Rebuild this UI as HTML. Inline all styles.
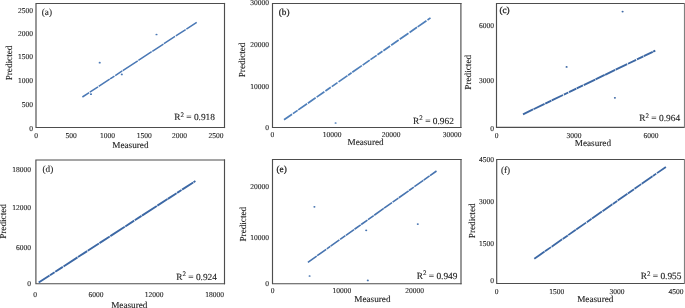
<!DOCTYPE html>
<html><head><meta charset="utf-8"><style>
html,body{margin:0;padding:0;background:#fff;}
body{width:685px;height:308px;overflow:hidden;}
svg{display:block;}
text{font-family:"Liberation Serif", "Times New Roman", serif;fill:#1e1e1e;stroke:#1e1e1e;stroke-width:0.12px;text-rendering:geometricPrecision;}
.t{font-size:7.5px;}
.l{font-size:9.2px;}
.g{font-size:9.2px;}
.r{font-size:9.4px;}
.s{font-size:7px;}
</style></head><body>
<svg width="685" height="308" viewBox="0 0 685 308">
<rect width="685" height="308" fill="#fff"/>
<path d="M36 3.5H224.5M36 127.5H224.5M36 3.5V127.5" fill="none" stroke="#4d4d4d" stroke-width="1.15" stroke-linecap="square"/>
<path d="M224.5 3.5V127.5" fill="none" stroke="#4d4d4d" stroke-width="1.15" stroke-linecap="square"/>
<text class="t" x="33" y="12.7" text-anchor="end">2500</text>
<text class="t" x="33" y="35.5" text-anchor="end">2000</text>
<text class="t" x="33" y="58.9" text-anchor="end">1500</text>
<text class="t" x="33" y="83.3" text-anchor="end">1000</text>
<text class="t" x="33" y="106.7" text-anchor="end">500</text>
<text class="t" x="33" y="130.5" text-anchor="end">0</text>
<text class="t" x="36.2" y="138.1" text-anchor="middle">0</text>
<text class="t" x="71.2" y="138.1" text-anchor="middle">500</text>
<text class="t" x="107.6" y="138.1" text-anchor="middle">1000</text>
<text class="t" x="144.3" y="138.1" text-anchor="middle">1500</text>
<text class="t" x="179.6" y="138.1" text-anchor="middle">2000</text>
<text class="t" x="216" y="138.1" text-anchor="middle">2500</text>
<text class="l" transform="translate(12.4 63) rotate(-90)" text-anchor="middle">Predicted</text>
<text class="l" x="130.4" y="148.3" text-anchor="middle">Measured</text>
<text class="g" x="41.8" y="15.2">(a)</text>
<text class="r" x="215" y="120.3" text-anchor="end">R<tspan class="s" dy="-3.5">2</tspan><tspan dy="3.5"> = 0.918</tspan></text>
<line x1="82.4" y1="97" x2="196.7" y2="22.3" stroke="#4a78b5" stroke-width="1.5" stroke-dasharray="8.09 0.77 9.81 0.8 13.13 0.53 5.17 0.92 8.37 0.62 17.94 0.74 15.87 0.74 13.31 0.58 13.25 0.93 11.8 0.87 13.73 0.53"/>
<ellipse cx="99.7" cy="62.7" rx="1.05" ry="0.85" fill="#4a78b5"/>
<ellipse cx="156.5" cy="34.5" rx="1.05" ry="0.85" fill="#4a78b5"/>
<ellipse cx="121.8" cy="74.4" rx="1.05" ry="0.85" fill="#4a78b5"/>
<ellipse cx="91" cy="94.2" rx="1.05" ry="0.85" fill="#4a78b5"/>
<path d="M272.5 3.5H460.9M272.5 127.5H460.9M272.5 3.5V127.5" fill="none" stroke="#4d4d4d" stroke-width="1.15" stroke-linecap="square"/>
<path d="M460.9 3.5V127.5" fill="none" stroke="#4d4d4d" stroke-width="1.15" stroke-linecap="square"/>
<text class="t" x="269" y="4.8" text-anchor="end">30000</text>
<text class="t" x="269" y="47.4" text-anchor="end">20000</text>
<text class="t" x="269" y="89.3" text-anchor="end">10000</text>
<text class="t" x="269" y="129.9" text-anchor="end">0</text>
<text class="t" x="272.3" y="137" text-anchor="middle">0</text>
<text class="t" x="332.2" y="137" text-anchor="middle">10000</text>
<text class="t" x="391" y="137" text-anchor="middle">20000</text>
<text class="t" x="452" y="137" text-anchor="middle">30000</text>
<text class="l" transform="translate(244.9 59.9) rotate(-90)" text-anchor="middle">Predicted</text>
<text class="l" x="365.6" y="145.1" text-anchor="middle">Measured</text>
<text class="g" x="278.8" y="14.8" style="stroke-width:0.25px">(b)</text>
<text class="r" x="453.9" y="123.8" text-anchor="end">R<tspan class="s" dy="-3.5">2</tspan><tspan dy="3.5"> = 0.962</tspan></text>
<line x1="284" y1="119.8" x2="430.5" y2="17.9" stroke="#4f7fba" stroke-width="1.7" stroke-dasharray="9.82 1.05 5.71 0.72 10.79 0.98 9.47 1.23 9.43 1.25 6.55 1.18 7 1.26 10.91 0.76 4.22 0.83 11.69 0.96 8.64 0.88 7.57 0.93 6.16 1.05 8.26 1.24 9.14 1.26 10.71 1.29 9.04 0.8 10.75 1.28 11.14 1.04"/>
<ellipse cx="335.6" cy="123" rx="1.05" ry="0.85" fill="#4f7fba"/>
<path d="M496.5 3.5H684.5M496.5 127.4H684.5M496.5 3.5V127.4" fill="none" stroke="#4d4d4d" stroke-width="1.15" stroke-linecap="square"/>
<path d="M684.5 3.5V127.4" fill="none" stroke="#808080" stroke-width="1.15" stroke-linecap="square"/>
<text class="t" x="494" y="27.9" text-anchor="end">6000</text>
<text class="t" x="494" y="82.5" text-anchor="end">3000</text>
<text class="t" x="494" y="131.2" text-anchor="end">0</text>
<text class="t" x="496.5" y="138.1" text-anchor="middle">0</text>
<text class="t" x="574.1" y="138.1" text-anchor="middle">3000</text>
<text class="t" x="650.9" y="138.1" text-anchor="middle">6000</text>
<text class="l" transform="translate(471 72.3) rotate(-90)" text-anchor="middle">Predicted</text>
<text class="l" x="592.9" y="146" text-anchor="middle">Measured</text>
<text class="g" x="499.4" y="13" style="stroke-width:0.3px">(c)</text>
<text class="r" x="680.1" y="121.4" text-anchor="end">R<tspan class="s" dy="-3.5">2</tspan><tspan dy="3.5"> = 0.964</tspan></text>
<line x1="523" y1="114.3" x2="655.3" y2="50.6" stroke="#3d68a4" stroke-width="1.9" stroke-dasharray="11.14 0.51 12.32 0.69 6.85 0.43 12.54 0.89 4.89 0.8 8.1 0.48 6.94 0.78 12.73 0.42 10.15 0.42 11.18 0.57 12.81 0.89 9.05 0.9 7.1 0.44 10 0.42 5.97 0.6"/>
<ellipse cx="622.6" cy="11.6" rx="1.05" ry="0.85" fill="#3d68a4"/>
<ellipse cx="566.6" cy="66.9" rx="1.05" ry="0.85" fill="#3d68a4"/>
<ellipse cx="614.9" cy="97.8" rx="1.05" ry="0.85" fill="#3d68a4"/>
<path d="M35.9 160H224.5M35.9 283.7H224.5M35.9 160V283.7" fill="none" stroke="#4d4d4d" stroke-width="1.15" stroke-linecap="square"/>
<path d="M224.5 160V283.7" fill="none" stroke="#4d4d4d" stroke-width="1.15" stroke-linecap="square"/>
<text class="t" x="31" y="171.9" text-anchor="end">18000</text>
<text class="t" x="31" y="210" text-anchor="end">12000</text>
<text class="t" x="31" y="249.9" text-anchor="end">6000</text>
<text class="t" x="31" y="285.8" text-anchor="end">0</text>
<text class="t" x="35" y="296.7" text-anchor="middle">0</text>
<text class="t" x="96" y="296.7" text-anchor="middle">6000</text>
<text class="t" x="154.2" y="296.7" text-anchor="middle">12000</text>
<text class="t" x="214.6" y="296.7" text-anchor="middle">18000</text>
<text class="l" transform="translate(5.8 221.5) rotate(-90)" text-anchor="middle">Predicted</text>
<text class="l" x="129.3" y="307.7" text-anchor="middle">Measured</text>
<text class="g" x="42.5" y="171.8">(d)</text>
<text class="r" x="217" y="279.5" text-anchor="end">R<tspan class="s" dy="-3.5">2</tspan><tspan dy="3.5"> = 0.924</tspan></text>
<line x1="38.7" y1="282.5" x2="195.4" y2="181" stroke="#3c68a5" stroke-width="1.9" stroke-dasharray="12.94 0.46 5.55 0.75 9.08 0.78 16.66 0.55 10.99 0.61 13.37 0.64 12.27 0.65 17.23 0.6 10.61 0.69 8.09 0.52 17.71 0.61 12.13 0.4 10.4 0.63 5.26 0.65 13.22 0.42 13.16 0.59"/>
<path d="M272.5 159.5H461M272.5 283.7H461M272.5 159.5V283.7" fill="none" stroke="#4d4d4d" stroke-width="1.15" stroke-linecap="square"/>
<path d="M461 159.5V283.7" fill="none" stroke="#4d4d4d" stroke-width="1.15" stroke-linecap="square"/>
<text class="t" x="269.1" y="189.1" text-anchor="end">20000</text>
<text class="t" x="269.1" y="239.9" text-anchor="end">10000</text>
<text class="t" x="269.1" y="286" text-anchor="end">0</text>
<text class="t" x="272.7" y="293.3" text-anchor="middle">0</text>
<text class="t" x="341.9" y="293.3" text-anchor="middle">10000</text>
<text class="t" x="414.6" y="293.3" text-anchor="middle">20000</text>
<text class="l" transform="translate(245.7 224.2) rotate(-90)" text-anchor="middle">Predicted</text>
<text class="l" x="372.4" y="301.9" text-anchor="middle">Measured</text>
<text class="g" x="276.5" y="171.7" style="stroke-width:0.28px">(e)</text>
<text class="r" x="457.5" y="278.7" text-anchor="end">R<tspan class="s" dy="-3.5">2</tspan><tspan dy="3.5"> = 0.949</tspan></text>
<line x1="307.9" y1="262.3" x2="436.5" y2="171" stroke="#4774b0" stroke-width="1.6" stroke-dasharray="10.79 0.58 11.07 0.77 4.22 0.43 10.76 0.88 6.51 0.63 9.93 0.56 7.64 0.56 7.69 0.7 7 0.59 11.72 0.41 9.69 0.77 7.1 0.51 12.04 0.52 5.87 0.62 10.98 0.45 7.22 0.57 12.34 0.62"/>
<ellipse cx="314.4" cy="206.8" rx="1.05" ry="0.85" fill="#4774b0"/>
<ellipse cx="366.2" cy="230.3" rx="1.05" ry="0.85" fill="#4774b0"/>
<ellipse cx="417.8" cy="224.1" rx="1.05" ry="0.85" fill="#4774b0"/>
<ellipse cx="309.6" cy="276" rx="1.05" ry="0.85" fill="#4774b0"/>
<ellipse cx="367.8" cy="280.4" rx="1.05" ry="0.85" fill="#4774b0"/>
<path d="M496.7 159.5H684.5M496.7 283.5H684.5M496.7 159.5V283.5" fill="none" stroke="#4d4d4d" stroke-width="1.15" stroke-linecap="square"/>
<path d="M684.5 159.5V283.5" fill="none" stroke="#808080" stroke-width="1.15" stroke-linecap="square"/>
<text class="t" x="493.9" y="162.3" text-anchor="end">4500</text>
<text class="t" x="493.9" y="204.2" text-anchor="end">3000</text>
<text class="t" x="493.9" y="246.3" text-anchor="end">1500</text>
<text class="t" x="493.9" y="283.4" text-anchor="end">0</text>
<text class="t" x="496.7" y="293.8" text-anchor="middle">0</text>
<text class="t" x="556.8" y="293.8" text-anchor="middle">1500</text>
<text class="t" x="617.1" y="293.8" text-anchor="middle">3000</text>
<text class="t" x="676" y="293.8" text-anchor="middle">4500</text>
<text class="l" transform="translate(474.7 220.8) rotate(-90)" text-anchor="middle">Predicted</text>
<text class="l" x="595.3" y="302.2" text-anchor="middle">Measured</text>
<text class="g" x="501" y="173.1">(f)</text>
<text class="r" x="681.5" y="279.1" text-anchor="end">R<tspan class="s" dy="-3.5">2</tspan><tspan dy="3.5"> = 0.955</tspan></text>
<line x1="534.3" y1="258.8" x2="665.9" y2="166.9" stroke="#3c68a5" stroke-width="1.8" stroke-dasharray="12.56 0.48 7.37 0.73 12.85 0.63 6.25 0.46 9.3 0.5 12.07 0.82 5.84 0.54 12.07 0.72 12.06 0.57 5.3 0.55 11.94 0.54 7.46 0.61 8.2 0.6 13.21 0.48 4.05 0.87 12.8 0.89"/>
</svg>
</body></html>
